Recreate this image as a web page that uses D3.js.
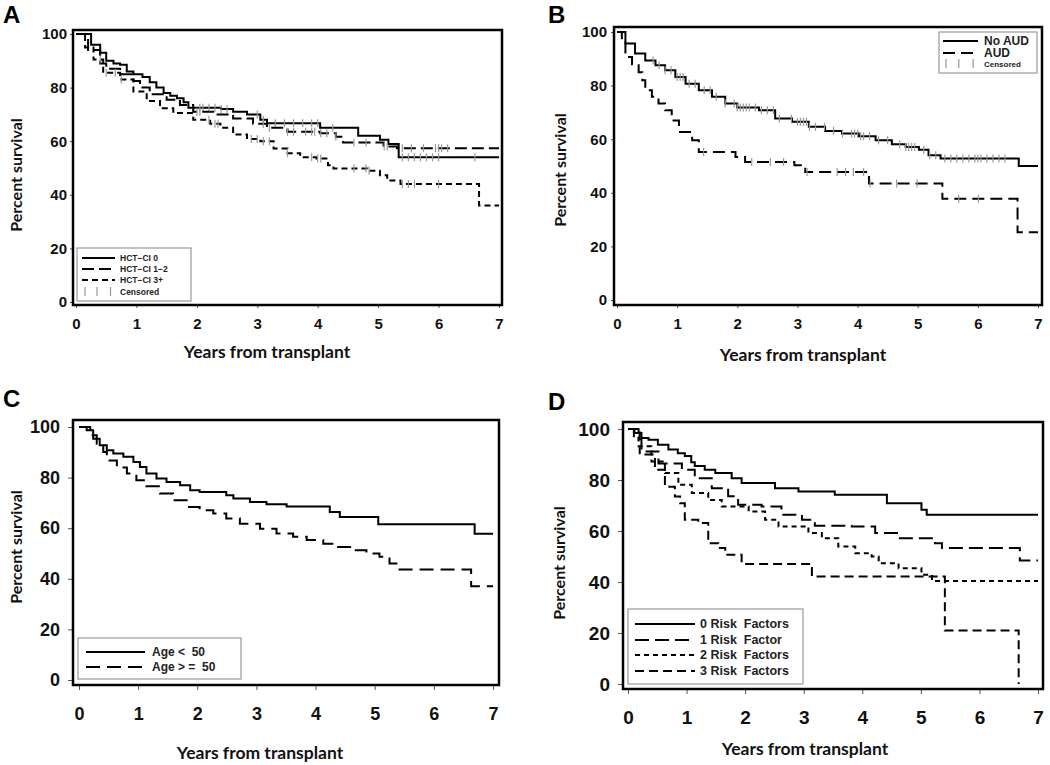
<!DOCTYPE html>
<html><head><meta charset="utf-8">
<script src="https://cdn.jsdelivr.net/npm/d3@7"></script>
<style>body{margin:0;background:#fff}</style>
</head><body><svg id="c" width="1050" height="765" xmlns="http://www.w3.org/2000/svg"></svg>
<script>
// ---------- tick labels ----------
const xTickValues = [0, 1, 2, 3, 4, 5, 6, 7];
const yTickValues = [0, 20, 40, 60, 80, 100];
const xTitle = "Years from transplant";
const yTitle = "Percent survival";

// ---------- Panel A: HCT-CI ----------
const aNames = ["HCT\u2212CI 0", "HCT\u2212CI 1\u22122", "HCT\u2212CI 3+"];
const aHct0Time = [0, 0.25, 0.4, 0.5, 0.62, 0.73, 0.84, 0.95, 1.1, 1.22, 1.33, 1.45, 1.56, 1.67, 1.78, 1.86, 2.4, 2.6, 2.83, 3.05, 3.16, 4.04, 4.67, 5.03, 5.17, 5.34, 7];
const aHct0Surv = [100, 96, 93, 90, 89, 88.5, 86, 85, 84, 82, 80, 78, 77, 76, 74.5, 72.5, 72, 71, 70, 68, 66.7, 65, 62, 60.5, 59, 54, 54];
const aHct12Time = [0, 0.2, 0.4, 0.5, 0.73, 0.95, 1.06, 1.22, 1.5, 1.72, 1.94, 2.27, 2.6, 2.93, 3.16, 3.5, 4.04, 4.3, 4.42, 5.09, 5.31, 7];
const aHct12Surv = [100, 94, 89, 87, 85, 82.5, 80, 77.5, 75.5, 73.5, 71, 70, 68.5, 66.5, 65, 63.5, 63, 61.7, 59.5, 58, 57.4, 57.4];
const aHct3Time = [0, 0.15, 0.29, 0.45, 0.73, 0.95, 1.17, 1.39, 1.61, 1.94, 2.22, 2.39, 2.6, 2.83, 3.05, 3.27, 3.5, 3.71, 3.98, 4.17, 4.26, 4.82, 5.03, 5.15, 5.37, 6.67, 7];
const aHct3Surv = [100, 95, 90.5, 85.5, 83, 78.5, 75, 72.3, 70.5, 68, 66.5, 65, 62.5, 60.8, 60, 57.3, 55.5, 54, 53.5, 51, 49.8, 49, 47.3, 45.3, 44, 36, 36];
const aHct0Censor = [2.05, 2.1, 2.2, 2.3, 2.4, 2.5, 3.0, 3.1, 3.3, 3.45, 3.6, 3.75, 3.9, 4.0, 4.25, 5.4, 5.5, 5.6, 5.7, 5.8, 5.9, 6.0, 6.6];
const aHct12Censor = [2.0, 2.05, 3.1, 3.2, 3.5, 3.6, 3.8, 3.9, 3.95, 4.05, 4.15, 4.3, 4.6, 4.8, 5.1, 5.15, 5.4, 5.55, 5.75, 5.95, 6.0, 6.05, 6.15];
const aHct3Censor = [0.4, 0.5, 0.65, 0.75, 2.2, 2.3, 2.35, 2.9, 3.0, 3.1, 3.2, 3.5, 3.9, 4.0, 4.05, 4.6, 4.8, 4.85, 5.4, 5.5, 5.6, 6.0];

// ---------- Panel B: AUD ----------
const bNames = ["No AUD", "AUD"];
const bNoAudTime = [0, 0.14, 0.3, 0.47, 0.64, 0.8, 0.97, 1.14, 1.36, 1.58, 1.8, 2.0, 2.36, 2.63, 2.91, 3.19, 3.46, 3.74, 4.02, 4.3, 4.57, 4.8, 5.02, 5.18, 5.38, 6.68, 7];
const bNoAudSurv = [100, 95.7, 92, 89.4, 87.6, 85.7, 83.2, 80.7, 78.3, 75.8, 73.3, 71.8, 70.8, 67.7, 66.5, 64.6, 63.1, 62.1, 61.1, 59.6, 58.1, 57.1, 56.1, 54, 52.8, 50, 50];
const bAudTime = [0, 0.08, 0.14, 0.25, 0.36, 0.42, 0.47, 0.58, 0.69, 0.8, 0.91, 1.03, 1.25, 1.36, 1.97, 2.13, 2.95, 3.13, 4.19, 5.41, 6.66, 7];
const bAudSurv = [100, 96.9, 90.7, 88, 85, 82, 78.3, 75.8, 73.3, 70.8, 67, 62.7, 59.6, 55.2, 53.4, 51.5, 50.3, 47.8, 43.5, 37.8, 25.3, 25.3];
const bNoAudCensor = [0.6, 0.7, 0.8, 0.9, 1.0, 1.05, 1.1, 1.2, 1.3, 1.45, 1.55, 1.65, 1.8, 1.95, 2.0, 2.05, 2.1, 2.15, 2.2, 2.3, 2.4, 2.5, 2.6, 2.7, 2.9, 3.0, 3.05, 3.1, 3.15, 3.2, 3.3, 3.45, 3.6, 3.75, 3.9, 3.95, 4.0, 4.05, 4.1, 4.2, 4.35, 4.5, 4.7, 4.8, 4.85, 4.9, 4.95, 5.1, 5.2, 5.3, 5.45, 5.55, 5.65, 5.75, 5.85, 5.95, 6.0, 6.05, 6.15, 6.25, 6.35, 6.45];
const bAudCensor = [1.44, 2.24, 2.55, 2.77, 3.16, 3.66, 3.8, 3.93, 4.1, 4.21, 4.65, 4.99, 5.68, 6.01];

// ---------- Panel C: Age ----------
const cNames = ["Age <  50", "Age > =  50"];
const cYoungTime = [0, 0.13, 0.24, 0.35, 0.47, 0.58, 0.75, 0.92, 1.03, 1.14, 1.31, 1.48, 1.71, 1.88, 2.04, 2.49, 2.61, 2.89, 3.17, 3.51, 4.24, 4.41, 5.06, 6.69, 7];
const cYoungSurv = [100, 98.7, 95.4, 92.8, 90.8, 89.5, 88.2, 86.2, 84.2, 81.6, 79.6, 78.3, 77, 75, 74.3, 73, 71.7, 70.4, 69.5, 68.6, 66.4, 64.4, 61.6, 57.8, 57.8];
const cOldTime = [0, 0.19, 0.3, 0.41, 0.47, 0.64, 0.81, 0.97, 1.14, 1.37, 1.59, 1.82, 2.04, 2.27, 2.49, 2.72, 3.06, 3.34, 3.62, 3.85, 4.13, 4.35, 4.63, 4.86, 5.08, 5.25, 5.39, 6.63, 7];
const cOldSurv = [100, 96.7, 93.4, 90.1, 86.8, 84, 81.6, 79, 76.6, 73.7, 71, 68.4, 67.1, 65.8, 63.8, 61.8, 59.8, 57.9, 56.6, 55.3, 53.9, 52.6, 51.3, 50, 48.7, 46, 43.7, 37.1, 37.1];

// ---------- Panel D: Risk factors ----------
const dNames = ["0 Risk  Factors", "1 Risk  Factor", "2 Risk  Factors", "3 Risk  Factors"];
const dRisk0Time = [0, 0.11, 0.23, 0.35, 0.51, 0.69, 0.85, 0.97, 1.08, 1.14, 1.31, 1.49, 1.77, 1.94, 2.51, 2.91, 3.53, 4.42, 5.01, 5.1, 7];
const dRisk0Surv = [100, 98.4, 96.5, 95.8, 93.8, 92, 90.5, 89.4, 87, 85.5, 84, 82.7, 80.7, 78.8, 76.8, 75.5, 74.2, 70.9, 68.3, 66.4, 66.4];
const dRisk1Time = [0, 0.1, 0.23, 0.52, 0.92, 1.14, 1.43, 1.71, 1.88, 2.28, 2.62, 2.97, 3.19, 3.82, 4.22, 4.62, 5.24, 5.36, 6.69, 7];
const dRisk1Surv = [100, 96, 91.2, 86.5, 84, 80.7, 76.8, 73.6, 70.3, 69.6, 66.4, 64.4, 62.1, 61.8, 59.2, 57.2, 55.2, 53.3, 48.4, 48.4];
const dRisk2Time = [0, 0.18, 0.4, 0.63, 0.86, 1.09, 1.37, 1.6, 2.06, 2.34, 2.57, 3.08, 3.31, 3.59, 3.88, 4.16, 4.28, 4.62, 5.01, 5.19, 7];
const dRisk2Surv = [100, 93.2, 87.3, 82.7, 78.1, 74.9, 72.2, 69.6, 67.6, 64.4, 61.8, 59.2, 57.2, 53.9, 51.3, 50, 47.4, 45.4, 42.8, 40.4, 40.4];
const dRisk3Time = [0, 0.2, 0.46, 0.63, 0.8, 0.89, 0.97, 1.2, 1.37, 1.54, 1.66, 1.94, 3.14, 5.41, 6.67];
const dRisk3Surv = [100, 90, 84, 77.4, 73.5, 70.9, 64.4, 63.1, 55.2, 53.3, 50.7, 47.1, 42.2, 21, 0];

// ---------- drawing ----------
const svg = d3.select("#c");
svg.append("rect").attr("width", 1050).attr("height", 765).attr("fill", "#fff");

const panels = [
  { letter: "A", lx: 3, ly: 23, letterSize: 24,
    xr: [76, 499], yr: [302, 34], frame: [73, 30, 502, 305],
    tickFont: 15, xLabY: 329, yLabGap: 3, tickLen: 3,
    xTitleY: 358, xTitleX: 267, yTitleX: 22, yTitleY: 175,
    series: [
      { t: aHct0Time, s: aHct0Surv, c: aHct0Censor, dash: null, name: aNames[0] },
      { t: aHct12Time, s: aHct12Surv, c: aHct12Censor, dash: "12,5", name: aNames[1] },
      { t: aHct3Time, s: aHct3Surv, c: aHct3Censor, dash: "6,4", name: aNames[2] }
    ],
    legend: { box: [77, 248, 114, 53], x1: 82, x2: 115, tx: 120, rows: [258, 269, 280, 292], font: 8.5, censored: true, cFont: 8.5 }
  },
  { letter: "B", lx: 548, ly: 23, letterSize: 24,
    xr: [617, 1038], yr: [300, 32], frame: [614, 27, 1042, 305],
    tickFont: 15, xLabY: 329, yLabGap: 4, tickLen: 3,
    xTitleY: 361, xTitleX: 803, yTitleX: 566, yTitleY: 170,
    series: [
      { t: bNoAudTime, s: bNoAudSurv, c: bNoAudCensor, dash: null, name: bNames[0] },
      { t: bAudTime, s: bAudSurv, c: bAudCensor, dash: "12,6", name: bNames[1] }
    ],
    legend: { box: [939, 32, 98, 41], x1: 943, x2: 978, tx: 984, rows: [41, 53, 64], font: 12, censored: true, cFont: 8 }
  },
  { letter: "C", lx: 3, ly: 407, letterSize: 24,
    xr: [79, 493], yr: [680, 427], frame: [73, 420, 499, 685],
    tickFont: 18, xLabY: 720, yLabGap: 8, tickLen: 5,
    xTitleY: 759, xTitleX: 260, yTitleX: 22, yTitleY: 547,
    series: [
      { t: cYoungTime, s: cYoungSurv, c: [], dash: null, name: cNames[0] },
      { t: cOldTime, s: cOldSurv, c: [], dash: "14,7", name: cNames[1] }
    ],
    legend: { box: [78, 638, 163, 41], x1: 86, x2: 145, tx: 152, rows: [652, 667], font: 12, censored: false }
  },
  { letter: "D", lx: 548, ly: 410, letterSize: 24,
    xr: [628, 1038], yr: [684, 429], frame: [623, 422, 1043, 689],
    tickFont: 19, xLabY: 724, yLabGap: 8, tickLen: 5,
    xTitleY: 755, xTitleX: 805, yTitleX: 565, yTitleY: 563,
    series: [
      { t: dRisk0Time, s: dRisk0Surv, c: [], dash: null, name: dNames[0] },
      { t: dRisk1Time, s: dRisk1Surv, c: [], dash: "14,6", name: dNames[1] },
      { t: dRisk2Time, s: dRisk2Surv, c: [], dash: "5,4", name: dNames[2] },
      { t: dRisk3Time, s: dRisk3Surv, c: [], dash: "9,5", name: dNames[3] }
    ],
    legend: { box: [628, 609, 175, 75], x1: 635, x2: 695, tx: 700, rows: [624, 640, 655, 671], font: 12.5, censored: false }
  }
];

const tickFontFamily = "'Liberation Sans', Arial, sans-serif";
const titleFontFamily = "Lato, 'Open Sans', sans-serif";

panels.forEach(p => {
  const g = svg.append("g");
  const x = d3.scaleLinear().domain([0, 7]).range(p.xr);
  const y = d3.scaleLinear().domain([0, 100]).range(p.yr);
  const [fx0, fy0, fx1, fy1] = p.frame;

  // panel letter
  g.append("text").attr("x", p.lx).attr("y", p.ly)
    .attr("font-family", tickFontFamily).attr("font-weight", "bold")
    .attr("font-size", p.letterSize).text(p.letter);

  // axes (ticks + labels)
  const xAxis = g.append("g").attr("transform", `translate(0,${fy1})`)
    .call(d3.axisBottom(x).tickValues(xTickValues).tickSize(p.tickLen).tickPadding(p.xLabY - fy1 - p.tickFont * 0.72 - p.tickLen).tickFormat(d3.format("d")));
  const yAxis = g.append("g").attr("transform", `translate(${fx0},0)`)
    .call(d3.axisLeft(y).tickValues(yTickValues).tickSize(p.tickLen).tickPadding(p.yLabGap).tickFormat(d3.format("d")));
  [xAxis, yAxis].forEach(ax => {
    ax.select(".domain").remove();
    ax.selectAll(".tick line").attr("stroke", "#555").attr("stroke-width", 1);
    ax.selectAll(".tick text").attr("font-family", tickFontFamily).attr("font-weight", "bold")
      .attr("font-size", p.tickFont).attr("fill", "#111");
  });
  xAxis.selectAll(".tick text").attr("dy", "0.72em");

  // axis titles
  g.append("text").attr("x", p.xTitleX).attr("y", p.xTitleY).attr("text-anchor", "middle")
    .attr("font-family", titleFontFamily).attr("font-weight", "bold").attr("font-size", 17.5)
    .attr("fill", "#111").text(xTitle);
  g.append("text").attr("transform", `translate(${p.yTitleX},${p.yTitleY}) rotate(-90)`)
    .attr("text-anchor", "middle")
    .attr("font-family", titleFontFamily).attr("font-weight", "bold").attr("font-size", 16)
    .attr("fill", "#111").text(yTitle);

  // curves
  const line = d3.line().x(d => x(d[0])).y(d => y(d[1])).curve(d3.curveStepAfter);
  p.series.forEach(s => {
    const pts = s.t.map((t, i) => [t, s.s[i]]);
    g.append("path").attr("d", line(pts)).attr("fill", "none").attr("stroke", "#000")
      .attr("stroke-width", 2).attr("stroke-dasharray", s.dash);
    // censored marks
    s.c.forEach(ct => {
      let v = s.s[0];
      for (let i = 0; i < s.t.length; i++) if (s.t[i] <= ct) v = s.s[i];
      g.append("line").attr("x1", x(ct)).attr("x2", x(ct))
        .attr("y1", y(v) - 4).attr("y2", y(v) + 4)
        .attr("stroke", "#999").attr("stroke-width", 1.2);
    });
  });

  // frame
  g.append("rect").attr("x", fx0).attr("y", fy0).attr("width", fx1 - fx0).attr("height", fy1 - fy0)
    .attr("fill", "none").attr("stroke", "#000").attr("stroke-width", 2.5);

  // legend
  const L = p.legend;
  const lg = g.append("g");
  lg.append("rect").attr("x", L.box[0]).attr("y", L.box[1]).attr("width", L.box[2]).attr("height", L.box[3])
    .attr("fill", "#fff").attr("stroke", "#999").attr("stroke-width", 1.2);
  p.series.forEach((s, i) => {
    lg.append("line").attr("x1", L.x1).attr("x2", L.x2).attr("y1", L.rows[i]).attr("y2", L.rows[i])
      .attr("stroke", "#000").attr("stroke-width", 2).attr("stroke-dasharray", s.dash);
    lg.append("text").attr("x", L.tx).attr("y", L.rows[i]).attr("dy", "0.35em")
      .attr("font-family", tickFontFamily).attr("font-weight", "bold").attr("font-size", L.font)
      .attr("fill", "#222").style("white-space", "pre").text(s.name);
  });
  if (L.censored) {
    const r = L.rows[p.series.length];
    [0, 0.4, 0.85].forEach(f => {
      const cx = L.x1 + 3 + f * (L.x2 - L.x1 - 3);
      lg.append("line").attr("x1", cx).attr("x2", cx).attr("y1", r - 5).attr("y2", r + 4)
        .attr("stroke", "#999").attr("stroke-width", 1.2);
    });
    lg.append("text").attr("x", L.tx).attr("y", r).attr("dy", "0.35em")
      .attr("font-family", tickFontFamily).attr("font-weight", "bold").attr("font-size", L.cFont)
      .attr("fill", "#222").text("Censored");
  }
});
</script>
</body></html>
